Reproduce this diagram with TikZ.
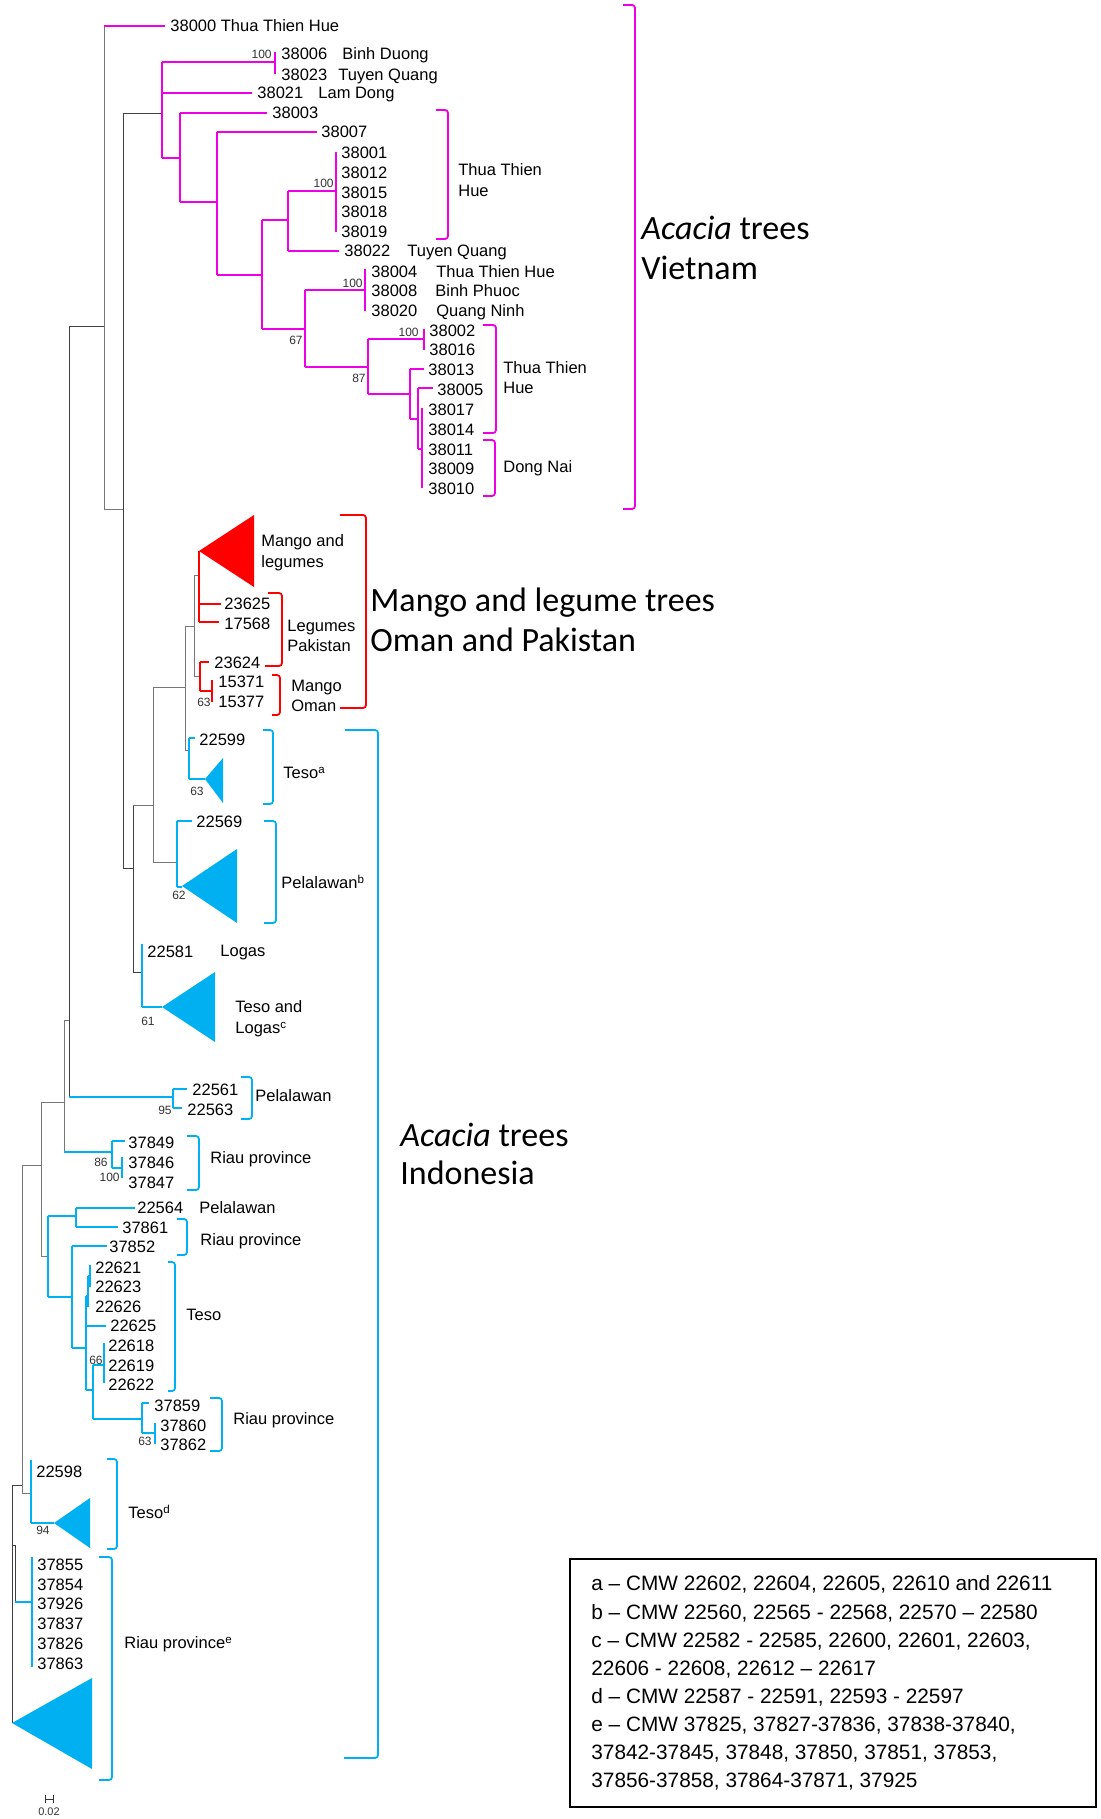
\documentclass[tikz,border=0pt]{standalone}
\usepackage{fontspec}
\setmainfont{Liberation Sans}
\newfontfamily\calib{Carlito}
\definecolor{mag}{RGB}{238,0,230}
\definecolor{rdc}{RGB}{255,0,0}
\definecolor{blc}{RGB}{0,176,240}
\definecolor{grc}{RGB}{120,120,120}
\newcommand\leaffont{\fontsize{8.25}{9}\selectfont}
\newcommand\bsfont{\fontsize{6}{7}\selectfont}
\newcommand\bigfont{\calib\fontsize{17}{20}\selectfont}
\newcommand\legfont{\fontsize{10.4}{12}\selectfont}
\newcommand\lfx[4]{\node[lbl] (#1) at (#2,#3) {#4};}
\newcommand\bsx[4]{\node[bsn] (#1) at (#2,#3) {#4};}
\newcommand\bgx[4]{\node[bign] (#1) at (#2,#3) {#4};}
\newcommand\lgx[4]{\node[legn] (#1) at (#2,#3) {#4};}
\tikzset{
  mg/.style={draw=mag, line width=1.3pt},
  rd/.style={draw=rdc, line width=1.3pt},
  bl/.style={draw=blc, line width=1.3pt},
  gr/.style={draw=grc, line width=0.4pt},
  bk/.style={draw=black!75, line width=0.4pt},
  brk/.style={line width=0.9pt, rounded corners=1.5pt},
  lbl/.style={anchor=base west, inner sep=0pt, yshift=-2.95pt, font=\leaffont},
  bsn/.style={anchor=base east, inner sep=0pt, yshift=-2.15pt, font=\bsfont, text=black!80},
  bign/.style={anchor=base west, inner sep=0pt, yshift=-5.5pt, font=\bigfont},
  legn/.style={anchor=base west, inner sep=0pt, yshift=-3.75pt, font=\legfont},
}
\begin{document}
\begin{tikzpicture}[x=0.5pt,y=-0.5pt]
\useasboundingbox (0,0) rectangle (1101,1819);
\fill[white] (0,0) rectangle (1101,1819);

% ---------- backbone (grey / black) ----------
\draw[gr] (104,26) -- (104,509) -- (123,509);
\draw[bk] (69,326) -- (104,326);
\draw[bk] (69,326) -- (69,1097);
\draw[bk] (123,113) -- (123,868) -- (133,868);
\draw[bk] (133,805) -- (133,972) -- (142,972);
\draw[gr] (133,805) -- (153,805);
\draw[gr] (153,687) -- (153,862) -- (177,862);
\draw[gr] (153,687) -- (185,687);
\draw[gr] (185,626) -- (185,750) -- (189,750);
\draw[gr] (185,626) -- (194,626);
\draw[gr] (194,575) -- (194,676) -- (200,676);
\draw[gr] (194,575) -- (199,575);
\draw[bk] (123,113) -- (162,113);
\draw[gr] (64,1020) -- (69,1020);
\draw[gr] (64,1020) -- (64,1152);
\draw[gr] (41,1102) -- (64,1102);
\draw[gr] (41,1102) -- (41,1256) -- (48,1256);
\draw[gr] (22,1165) -- (41,1165);
\draw[gr] (22,1165) -- (22,1493) -- (31,1493);
\draw[bk] (12,1485) -- (22,1485);
\draw[bk] (12,1485) -- (12,1723);
\draw[bk] (12,1545) -- (15,1545) -- (15,1602);

% ---------- Vietnam (magenta) ----------
\draw[mg] (104,26) -- (165,26);
\draw[mg] (162,62) -- (162,158);
\draw[mg] (162,62) -- (275,62);
\draw[mg] (275,52) -- (275,74);
\draw[mg] (162,93) -- (252,93);
\draw[mg] (162,158) -- (180,158);
\draw[mg] (180,113) -- (180,202);
\draw[mg] (180,113) -- (267,113);
\draw[mg] (180,202) -- (217,202);
\draw[mg] (217,132) -- (217,275);
\draw[mg] (217,132) -- (317,132);
\draw[mg] (217,275) -- (262,275);
\draw[mg] (262,220) -- (262,329);
\draw[mg] (262,220) -- (288,220);
\draw[mg] (288,191) -- (288,251);
\draw[mg] (288,191) -- (336,191);
\draw[mg] (336,152) -- (336,232);
\draw[mg] (288,251) -- (339,251);
\draw[mg] (262,329) -- (305,329);
\draw[mg] (305,290) -- (305,367);
\draw[mg] (305,290) -- (365,290);
\draw[mg] (365,269) -- (365,311);
\draw[mg] (305,367) -- (368,367);
\draw[mg] (368,339) -- (368,394);
\draw[mg] (368,339) -- (424,339);
\draw[mg] (424,329) -- (424,350);
\draw[mg] (368,394) -- (410,394);
\draw[mg] (410,369) -- (410,419);
\draw[mg] (410,369) -- (424,369);
\draw[mg] (410,419) -- (418,419);
\draw[mg] (418,388) -- (418,449);
\draw[mg] (418,388) -- (433,388);
\draw[mg] (418,449) -- (422,449);
\draw[mg] (422,408) -- (422,488);

\lfx{l38000}{170}{26}{38000 Thua Thien Hue}
\bsx{b1}{272}{54}{100}
\lfx{l38006}{281}{54}{38006}  \lfx{p38006}{342}{54}{Binh Duong}
\lfx{l38023}{281}{75}{38023}  \lfx{p38023}{338}{75}{Tuyen Quang}
\lfx{l38021}{257}{93}{38021}  \lfx{p38021}{318}{93}{Lam Dong}
\lfx{l38003}{272}{113}{38003}
\lfx{l38007}{321}{132}{38007}
\bsx{b2}{334}{183}{100}
\lfx{l38001}{341}{153}{38001}
\lfx{l38012}{341}{173}{38012}
\lfx{l38015}{341}{193}{38015}
\lfx{l38018}{341}{212}{38018}
\lfx{l38019}{341}{232}{38019}
\lfx{l38022}{344}{251}{38022}  \lfx{p38022}{407}{251}{Tuyen Quang}
\bsx{b3}{363}{283}{100}
\lfx{l38004}{371}{272}{38004}  \lfx{p38004}{436}{272}{Thua Thien Hue}
\lfx{l38008}{371}{291}{38008}  \lfx{p38008}{435}{291}{Binh Phuoc}
\lfx{l38020}{371}{311}{38020}  \lfx{p38020}{436}{311}{Quang Ninh}
\bsx{b4}{303}{340}{67}
\bsx{b5}{366}{378}{87}
\bsx{b6}{419}{332}{100}
\lfx{l38002}{429}{331}{38002}
\lfx{l38016}{429}{350}{38016}
\lfx{l38013}{428}{370}{38013}
\lfx{l38005}{437}{390}{38005}
\lfx{l38017}{428}{410}{38017}
\lfx{l38014}{428}{430}{38014}
\lfx{l38011}{428}{450}{38011}
\lfx{l38009}{428}{469}{38009}
\lfx{l38010}{428}{489}{38010}

\draw[mag,brk] (436,110) -- (448,110) -- (448,239) -- (436,239);
\lfx{t1a}{458}{170}{Thua Thien} \lfx{t1b}{458}{191}{Hue}
\draw[mag,brk] (483,325) -- (496,325) -- (496,433) -- (483,433);
\lfx{t2a}{503}{368}{Thua Thien} \lfx{t2b}{503}{388}{Hue}
\draw[mag,brk] (483,440) -- (495,440) -- (495,496) -- (483,496);
\lfx{t3}{503}{467}{Dong Nai}
\draw[mag,brk] (623,5) -- (635,5) -- (635,509) -- (623,509);
\bgx{gv1}{641}{229}{{\itshape Acacia} trees}
\bgx{gv2}{641}{268}{Vietnam}

% ---------- Mango / legumes (red) ----------
\fill[rdc] (199,551) -- (254,515) -- (254,587) -- cycle;
\draw[rd] (199,551) -- (199,622);
\draw[rd] (199,604) -- (221,604);
\draw[rd] (199,622) -- (219,622);
\draw[rd] (200,662) -- (200,691);
\draw[rd] (200,662) -- (209,662);
\draw[rd] (200,691) -- (212,691);
\draw[rd] (212,680) -- (212,702);
\lfx{m1a}{261}{541}{Mango and} \lfx{m1b}{261}{562}{legumes}
\lfx{l23625}{224}{604}{23625}
\lfx{l17568}{224}{624}{17568}
\lfx{l23624}{214}{663}{23624}
\lfx{l15371}{218}{682}{15371}
\lfx{l15377}{218}{702}{15377}
\bsx{b7}{211}{702}{63}
\draw[rdc,brk] (268,593) -- (282,593) -- (282,666) -- (265,666);
\lfx{m2a}{287}{626}{Legumes} \lfx{m2b}{287}{646}{Pakistan}
\draw[rdc,brk] (272,675) -- (280,675) -- (280,715) -- (272,715);
\lfx{m3a}{291}{686}{Mango} \lfx{m3b}{291}{706}{Oman}
\draw[rdc,brk] (340,515) -- (366,515) -- (366,708) -- (340,708);
\bgx{gm1}{370}{600}{Mango and legume trees}
\bgx{gm2}{370}{640}{Oman and Pakistan}

% ---------- Indonesia (blue) ----------
% Teso a
\draw[bl] (189,738) -- (189,779);
\draw[bl] (189,738) -- (195,738);
\draw[bl] (189,779) -- (205,779);
\fill[blc] (205,779) -- (223,758) -- (223,803) -- cycle;
\lfx{l22599}{199}{740}{22599}
\bsx{b8}{204}{791}{63}
\draw[blc,brk] (263,730) -- (273,730) -- (273,804) -- (263,804);
\lfx{ia}{283}{773}{Teso\textsuperscript{a}}
% Pelalawan b
\draw[bl] (177,821) -- (177,887);
\draw[bl] (177,821) -- (192,821);
\draw[bl] (177,887) -- (182,887);
\fill[blc] (182,886) -- (237,849) -- (237,923) -- cycle;
\lfx{l22569}{196}{822}{22569}
\bsx{b9}{186}{895}{62}
\draw[blc,brk] (264,821) -- (276,821) -- (276,923) -- (264,923);
\lfx{ib}{281}{883}{Pelalawan\textsuperscript{b}}
% Logas
\draw[bl] (142,944) -- (142,1007);
\draw[bl] (142,1007) -- (162,1007);
\fill[blc] (162,1007) -- (215,972) -- (215,1042) -- cycle;
\lfx{l22581}{147}{952}{22581} \lfx{p22581}{220}{951}{Logas}
\bsx{b10}{155}{1021}{61}
\lfx{ic1}{235}{1007}{Teso and} \lfx{ic2}{235}{1028}{Logas\textsuperscript{c}}
% 22561
\draw[bl] (69,1097) -- (173,1097);
\draw[bl] (173,1089) -- (173,1108);
\draw[bl] (173,1089) -- (187,1089);
\draw[bl] (173,1108) -- (182,1108);
\lfx{l22561}{192}{1090}{22561}
\lfx{l22563}{187}{1110}{22563}
\bsx{b11}{172}{1110}{95}
\draw[blc,brk] (241,1077) -- (252,1077) -- (252,1119) -- (241,1119);
\lfx{p22561}{255}{1096}{Pelalawan}
% 37849
\draw[bl] (64,1152) -- (112,1152);
\draw[bl] (112,1141) -- (112,1168);
\draw[bl] (112,1141) -- (125,1141);
\draw[bl] (112,1168) -- (122,1168);
\draw[bl] (122,1157) -- (122,1178);
\lfx{l37849}{128}{1143}{37849}
\lfx{l37846}{128}{1163}{37846}
\lfx{l37847}{128}{1183}{37847}
\bsx{b12}{108}{1162}{86}
\bsx{b13}{120}{1177}{100}
\draw[blc,brk] (187,1136) -- (199,1136) -- (199,1190) -- (187,1190);
\lfx{r1}{210}{1158}{Riau province}
% lower group
\draw[bl] (48,1216) -- (48,1297);
\draw[bl] (48,1216) -- (76,1216);
\draw[bl] (76,1208) -- (76,1227);
\draw[bl] (76,1208) -- (135,1208);
\draw[bl] (76,1227) -- (118,1227);
\lfx{l22564}{137}{1208}{22564} \lfx{p22564}{199}{1208}{Pelalawan}
\lfx{l37861}{122}{1228}{37861}
\draw[bl] (48,1297) -- (72,1297);
\draw[bl] (72,1246) -- (72,1348);
\draw[bl] (72,1246) -- (107,1246);
\lfx{l37852}{109}{1247}{37852}
\draw[blc,brk] (177,1219) -- (187,1219) -- (187,1255) -- (177,1255);
\lfx{r2}{200}{1240}{Riau province}
\draw[bl] (72,1348) -- (86,1348);
\draw[bl] (90,1265) -- (90,1287);
\draw[bl] (88,1276) -- (90,1276);
\draw[bl] (88,1276) -- (88,1307);
\draw[bl] (86,1296) -- (88,1296);
\draw[bl] (86,1296) -- (86,1390);
\draw[bl] (86,1326) -- (106,1326);
\lfx{l22621}{95}{1268}{22621}
\lfx{l22623}{95}{1287}{22623}
\lfx{l22626}{95}{1307}{22626}
\lfx{l22625}{110}{1326}{22625}
\draw[bl] (86,1390) -- (93,1390);
\draw[bl] (93,1365) -- (93,1419);
\draw[bl] (93,1365) -- (104,1365);
\draw[bl] (104,1343) -- (104,1383);
\lfx{l22618}{108}{1346}{22618}
\lfx{l22619}{108}{1366}{22619}
\lfx{l22622}{108}{1385}{22622}
\bsx{b14}{103}{1360}{66}
\draw[blc,brk] (168,1262) -- (175,1262) -- (175,1391) -- (168,1391);
\lfx{t4}{186}{1315}{Teso}
\draw[bl] (93,1419) -- (142,1419);
\draw[bl] (142,1403) -- (142,1433);
\draw[bl] (142,1403) -- (149,1403);
\draw[bl] (142,1433) -- (155,1433);
\draw[bl] (155,1423) -- (155,1444);
\lfx{l37859}{154}{1406}{37859}
\lfx{l37860}{160}{1426}{37860}
\lfx{l37862}{160}{1445}{37862}
\bsx{b15}{152}{1441}{63}
\draw[blc,brk] (210,1398) -- (222,1398) -- (222,1451) -- (210,1451);
\lfx{r3}{233}{1419}{Riau province}
% Teso d
\draw[bl] (31,1460) -- (31,1523);
\draw[bl] (31,1523) -- (54,1523);
\fill[blc] (54,1523) -- (90,1498) -- (90,1548) -- cycle;
\lfx{l22598}{36}{1472}{22598}
\bsx{b16}{50}{1530}{94}
\draw[blc,brk] (107,1459) -- (117,1459) -- (117,1549) -- (107,1549);
\lfx{id}{128}{1513}{Teso\textsuperscript{d}}
% Riau e
\draw[bl] (15,1602) -- (32,1602);
\draw[bl] (32,1557) -- (32,1667);
\lfx{l37855}{37}{1565}{37855}
\lfx{l37854}{37}{1585}{37854}
\lfx{l37926}{37}{1604}{37926}
\lfx{l37837}{37}{1624}{37837}
\lfx{l37826}{37}{1644}{37826}
\lfx{l37863}{37}{1664}{37863}
\fill[blc] (12,1723) -- (92,1678) -- (92,1769) -- cycle;
\draw[blc,brk] (99,1557) -- (112,1557) -- (112,1780) -- (99,1780);
\lfx{ie}{124}{1643}{Riau province\textsuperscript{e}}
% big bracket
\draw[blc,brk] (345,730) -- (378,730) -- (378,1758) -- (344,1758);
\bgx{gi1}{400}{1135}{{\itshape Acacia} trees}
\bgx{gi2}{400}{1173}{Indonesia}

% ---------- scale bar ----------
\draw[black!80, line width=0.5pt] (45,1795) -- (45,1803) (45,1799) -- (53,1799) (53,1795) -- (53,1803);
\node[anchor=base, inner sep=0pt, font=\fontsize{5.5}{6}\selectfont, text=black!80] (scl) at (49,1815) {0.02};

% ---------- legend ----------
\draw[black, line width=0.9pt] (570,1559) rectangle (1096,1807);
\lgx{la}{591}{1583}{a – CMW 22602, 22604, 22605, 22610 and 22611}
\lgx{lb}{591}{1612}{b – CMW 22560, 22565 - 22568, 22570 – 22580}
\lgx{lc1}{591}{1640}{c – CMW 22582 - 22585, 22600, 22601, 22603,}
\lgx{lc2}{591}{1668}{22606 - 22608, 22612 – 22617}
\lgx{ld}{591}{1696}{d – CMW 22587 - 22591, 22593 - 22597}
\lgx{le1}{591}{1724}{e – CMW 37825, 37827-37836, 37838-37840,}
\lgx{le2}{591}{1752}{37842-37845, 37848, 37850, 37851, 37853,}
\lgx{le3}{591}{1780}{37856-37858, 37864-37871, 37925}
\end{tikzpicture}
\end{document}
